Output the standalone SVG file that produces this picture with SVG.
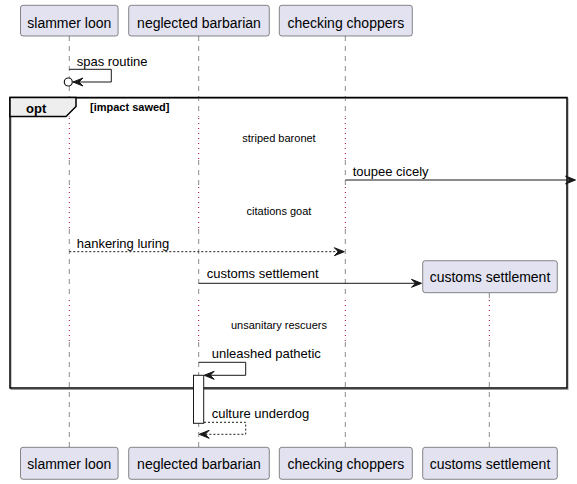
<svg xmlns="http://www.w3.org/2000/svg" width="577" height="484" viewBox="0 0 577 484">
<style>
.part{fill:#E2E2F0;stroke:#181818;stroke-width:0.5}
.ptxt{font-family:"Liberation Sans",Arial,sans-serif;font-size:14px;fill:#000;text-anchor:middle}
.life{stroke:#181818;stroke-width:0.5;stroke-dasharray:5,5;fill:none}
.delay{stroke:#A80036;stroke-width:1;stroke-dasharray:1,4;fill:none}
.msg{stroke:#181818;stroke-width:1;fill:none}
.dash{stroke:#181818;stroke-width:1;fill:none;stroke-dasharray:2,2}
.head{fill:#181818;stroke:#181818;stroke-width:1}
.mtxt{font-family:"Liberation Sans",Arial,sans-serif;font-size:13px;fill:#000}
.dtxt{font-family:"Liberation Sans",Arial,sans-serif;font-size:11px;fill:#000;text-anchor:middle}
</style>
<rect width="577" height="484" fill="#FFFFFF"/>

<g id="lifelines">
  <!-- slammer loon -->
  <line class="life" x1="69.3" y1="36" x2="69.3" y2="117"/>
  <line class="delay" x1="69.3" y1="118" x2="69.3" y2="160"/>
  <line class="life" x1="69.3" y1="160" x2="69.3" y2="186"/>
  <line class="delay" x1="69.3" y1="187" x2="69.3" y2="229"/>
  <line class="life" x1="69.3" y1="229" x2="69.3" y2="299"/>
  <line class="delay" x1="69.3" y1="300" x2="69.3" y2="342"/>
  <line class="life" x1="69.3" y1="342" x2="69.3" y2="447"/>
  <!-- neglected barbarian -->
  <line class="life" x1="198.7" y1="36" x2="198.7" y2="117"/>
  <line class="delay" x1="198.7" y1="118" x2="198.7" y2="160"/>
  <line class="life" x1="198.7" y1="160" x2="198.7" y2="186"/>
  <line class="delay" x1="198.7" y1="187" x2="198.7" y2="229"/>
  <line class="life" x1="198.7" y1="229" x2="198.7" y2="299"/>
  <line class="delay" x1="198.7" y1="300" x2="198.7" y2="342"/>
  <line class="life" x1="198.7" y1="342" x2="198.7" y2="447"/>
  <!-- checking choppers -->
  <line class="life" x1="345.3" y1="36" x2="345.3" y2="117"/>
  <line class="delay" x1="345.3" y1="118" x2="345.3" y2="160"/>
  <line class="life" x1="345.3" y1="160" x2="345.3" y2="186"/>
  <line class="delay" x1="345.3" y1="187" x2="345.3" y2="229"/>
  <line class="life" x1="345.3" y1="229" x2="345.3" y2="299"/>
  <line class="delay" x1="345.3" y1="300" x2="345.3" y2="342"/>
  <line class="life" x1="345.3" y1="342" x2="345.3" y2="447"/>
  <!-- customs settlement -->
  <line class="life" x1="489.3" y1="293" x2="489.3" y2="299"/>
  <line class="delay" x1="489.3" y1="300" x2="489.3" y2="342"/>
  <line class="life" x1="489.3" y1="342" x2="489.3" y2="447"/>
</g>

<g id="frame-opt">
  <rect x="11" y="98.5" width="557" height="291" fill="none" stroke="#999999" stroke-width="1"/>
  <rect x="10" y="97.5" width="557" height="290.5" fill="none" stroke="#000000" stroke-width="1.5"/>
  <polygon points="10,97.5 76,97.5 76,106.5 66,116.5 10,116.5" fill="#EEEEEE" stroke="#000000" stroke-width="1.5"/>
  <text x="26" y="112.5" font-family="'Liberation Sans',Arial,sans-serif" font-size="13" font-weight="bold">opt</text>
  <text x="90" y="110.5" font-family="'Liberation Sans',Arial,sans-serif" font-size="11" font-weight="bold">[impact sawed]</text>
</g>

<g id="delays">
  <text class="dtxt" x="279" y="142">striped baronet</text>
  <text class="dtxt" x="279" y="214.5">citations goat</text>
  <text class="dtxt" x="279" y="329">unsanitary rescuers</text>
</g>

<g id="activation">
  <rect x="193.5" y="375.3" width="10.2" height="48" fill="#FFFFFF" stroke="#181818" stroke-width="1"/>
</g>

<g id="connectors">
  <!-- spas routine -->
  <polyline class="msg" points="69.3,69.3 111.3,69.3 111.3,82 73,82"/>
  <polygon class="head" points="73,82 83,78 79,82 83,86"/>
  <circle cx="68.3" cy="82" r="4" fill="#FFFFFF" stroke="#181818" stroke-width="1.2"/>
  <text class="mtxt" x="76.7" y="65.5">spas routine</text>

  <!-- toupee cicely -->
  <line class="msg" x1="345.3" y1="180" x2="574" y2="180"/>
  <polygon class="head" points="575.5,180 565.5,176 569.5,180 565.5,184"/>
  <text class="mtxt" x="352.7" y="176">toupee cicely</text>

  <!-- hankering luring -->
  <line class="dash" x1="69.3" y1="251.7" x2="343" y2="251.7"/>
  <polygon class="head" points="344.3,251.7 334.3,247.7 338.3,251.7 334.3,255.7"/>
  <text class="mtxt" x="76.7" y="248">hankering luring</text>

  <!-- customs settlement (create) -->
  <line class="msg" x1="198.7" y1="283.3" x2="420" y2="283.3"/>
  <polygon class="head" points="421.5,283.3 411.5,279.3 415.5,283.3 411.5,287.3"/>
  <text class="mtxt" x="206.7" y="278">customs settlement</text>

  <!-- unleashed pathetic -->
  <polyline class="msg" points="198.7,362.3 245.7,362.3 245.7,375.3 205,375.3"/>
  <polygon class="head" points="204.2,375.3 214.2,371.3 210.2,375.3 214.2,379.3"/>
  <text class="mtxt" x="211.7" y="358">unleashed pathetic</text>

  <!-- culture underdog -->
  <polyline class="dash" points="204,422.3 245.7,422.3 245.7,434.3 200,434.3"/>
  <polygon class="head" points="199.2,434.3 209.2,430.3 205.2,434.3 209.2,438.3"/>
  <text class="mtxt" x="211.7" y="418">culture underdog</text>
</g>

<g id="p-slammer-loon">
  <rect class="part" x="20.5" y="5.3" width="97.6" height="30.7" rx="2.5"/>
  <text class="ptxt" x="69.3" y="27.5">slammer loon</text>
  <rect class="part" x="20.5" y="447.3" width="97.6" height="32" rx="2.5"/>
  <text class="ptxt" x="69.3" y="469">slammer loon</text>
</g>
<g id="p-neglected-barbarian">
  <rect class="part" x="128.7" y="5.3" width="140.6" height="30.7" rx="2.5"/>
  <text class="ptxt" x="199" y="27.5">neglected barbarian</text>
  <rect class="part" x="128.7" y="447.3" width="140.6" height="32" rx="2.5"/>
  <text class="ptxt" x="199" y="469">neglected barbarian</text>
</g>
<g id="p-checking-choppers">
  <rect class="part" x="279.3" y="5.3" width="133" height="30.7" rx="2.5"/>
  <text class="ptxt" x="345.8" y="27.5">checking choppers</text>
  <rect class="part" x="279.3" y="447.3" width="133" height="32" rx="2.5"/>
  <text class="ptxt" x="345.8" y="469">checking choppers</text>
</g>
<g id="p-customs-settlement">
  <rect class="part" x="422.7" y="260.7" width="134.6" height="32" rx="2.5"/>
  <text class="ptxt" x="490" y="281.5">customs settlement</text>
  <rect class="part" x="422.7" y="447.3" width="134.6" height="32" rx="2.5"/>
  <text class="ptxt" x="490" y="469">customs settlement</text>
</g>
</svg>
